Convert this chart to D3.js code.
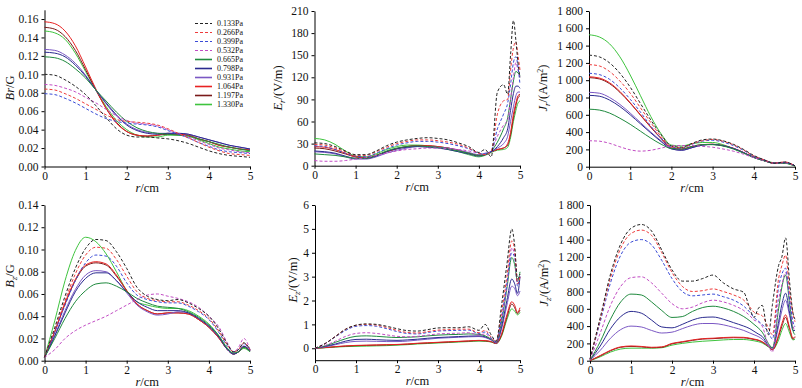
<!DOCTYPE html>
<html><head><meta charset="utf-8">
<script src="https://cdn.jsdelivr.net/npm/d3@7"></script>
<style>
body{margin:0;background:#fff;}
</style></head>
<body><svg id="c" width="802" height="388"></svg>
<script>
// ---------- data ----------
const pressures = ["0.133Pa","0.266Pa","0.399Pa","0.532Pa","0.665Pa","0.798Pa","0.931Pa","1.064Pa","1.197Pa","1.330Pa"];
const xTicks = [0,1,2,3,4,5];

const rBr = [0,0.25,0.5,0.75,1,1.25,1.5,1.75,2,2.25,2.5,2.75,3,3.25,3.5,3.75,4,4.25,4.5,4.75,5];
const brValues = [
 [.100,.099,.094,.087,.078,.066,.053,.041,.034,.032,.032,.031,.030,.028,.025,.021,.017,.014,.012,.011,.010],
 [.084,.083,.079,.074,.068,.062,.056,.051,.049,.048,.047,.045,.041,.036,.031,.026,.021,.017,.014,.013,.012],
 [.079,.078,.074,.069,.063,.057,.052,.049,.047,.046,.045,.043,.039,.035,.031,.026,.022,.018,.016,.015,.014],
 [.089,.088,.085,.081,.075,.069,.062,.055,.050,.047,.046,.044,.040,.036,.032,.028,.024,.020,.018,.016,.015],
 [.119,.118,.114,.106,.096,.083,.071,.059,.049,.042,.038,.036,.035,.034,.033,.030,.027,.024,.021,.019,.017],
 [.124,.123,.119,.110,.098,.083,.069,.056,.045,.039,.036,.035,.036,.036,.035,.032,.029,.026,.023,.021,.019],
 [.127,.126,.121,.112,.099,.083,.068,.055,.046,.040,.037,.036,.036,.036,.035,.032,.029,.026,.023,.021,.019],
 [.157,.155,.147,.131,.108,.084,.063,.047,.038,.034,.033,.034,.036,.035,.034,.030,.027,.023,.021,.019,.018],
 [.151,.149,.141,.126,.105,.083,.063,.048,.038,.034,.033,.034,.035,.035,.034,.030,.027,.023,.021,.019,.018],
 [.147,.145,.138,.123,.103,.083,.065,.050,.040,.034,.032,.032,.034,.034,.033,.029,.025,.021,.019,.017,.016]
];
const brTicks = [0,0.02,0.04,0.06,0.08,0.10,0.12,0.14,0.16];

const rEr = [0,0.25,0.5,0.75,1,1.25,1.5,1.75,2,2.25,2.5,2.75,3,3.25,3.5,3.75,4,4.15,4.3,4.45,4.6,4.7,4.77,4.84,4.9,4.95,5];
const erValues = [
 [31,30,26,20,15,15,20,27,32,35,37,38,37,35,31,26,18,22,12,100,110,97,150,197,170,140,120],
 [29,28,24,19,14,14,19,25,30,33,35,35,34,32,29,24,17,15,20,70,88,90,130,160,168,150,130],
 [27,26,22,17,13,12,17,23,28,31,33,33,32,30,27,23,17,16,20,50,70,85,110,140,148,135,110],
 [7,6,6,7,9,11,14,17,20,22,23,24,24,23,22,20,17,15,20,40,55,62,90,120,140,130,120],
 [16,15,14,12,10,10,14,20,24,26,27,26,25,23,20,17,14,15,20,32,50,65,90,115,128,126,122],
 [20,19,17,13,10,10,13,19,23,25,26,25,24,22,19,16,13,15,19,26,38,50,75,98,108,108,105],
 [19,18,16,12,9,9,12,17,21,24,26,26,25,24,21,18,15,17,19,24,30,40,60,80,95,100,100],
 [26,25,22,17,12,11,14,19,23,26,27,27,26,24,21,17,14,15,19,22,24,30,45,70,85,95,97],
 [24,23,20,16,12,11,14,19,23,26,27,27,26,24,21,17,14,15,19,22,24,28,42,65,82,92,95],
 [37,35,29,20,13,12,16,22,26,28,28,27,25,22,19,15,12,14,18,21,22,25,38,60,75,85,88]
];
const erTicks = [0,30,60,90,120,150,180,210];

const rJr = [0,0.25,0.5,0.75,1,1.25,1.5,1.75,2,2.25,2.5,2.75,3,3.25,3.5,3.75,4,4.25,4.5,4.75,5];
const jrValues = [
 [1290,1270,1200,1080,920,730,540,370,240,225,270,310,320,300,260,200,130,80,40,55,10],
 [1180,1165,1100,990,850,680,510,350,235,220,265,300,315,295,255,195,125,80,40,55,10],
 [1080,1065,1010,910,780,630,470,330,230,215,260,295,305,285,245,190,120,80,40,50,10],
 [300,295,270,230,195,180,190,215,240,245,245,235,225,205,180,145,105,70,40,45,10],
 [665,655,620,560,490,410,330,260,210,205,235,255,255,240,205,158,105,68,38,40,8],
 [825,815,770,695,600,495,390,290,205,190,220,250,258,243,212,163,108,70,40,45,10],
 [860,850,800,720,620,510,400,300,210,190,220,250,258,243,212,163,108,70,40,45,10],
 [1040,1025,970,870,740,600,460,330,220,205,235,255,260,245,215,165,110,70,40,45,10],
 [1030,1015,960,860,735,595,455,325,215,200,230,252,258,243,212,163,108,70,40,45,10],
 [1525,1500,1420,1270,1060,820,580,380,250,240,265,280,280,255,210,160,110,70,45,40,5]
];
const jTicks = [0,200,400,600,800,1000,1200,1400,1600,1800];

const rBz = [0,0.25,0.5,0.75,1,1.25,1.5,1.75,2,2.25,2.5,2.75,3,3.25,3.5,3.75,4,4.25,4.45,4.6,4.72,4.85,5];
const bzValues = [
 [.003,.030,.058,.083,.101,.109,.108,.098,.083,.066,.058,.055,.054,.055,.052,.047,.040,.028,.015,.008,.010,.016,.010],
 [.003,.028,.054,.078,.095,.102,.101,.091,.076,.062,.056,.054,.053,.053,.050,.045,.038,.026,.014,.008,.010,.016,.010],
 [.003,.026,.050,.072,.088,.095,.094,.085,.070,.059,.055,.053,.052,.052,.049,.044,.037,.025,.013,.008,.010,.015,.010],
 [.003,.010,.020,.027,.032,.036,.040,.045,.050,.055,.059,.060,.058,.056,.053,.048,.040,.030,.016,.008,.012,.020,.010],
 [.003,.020,.038,.053,.063,.069,.070,.067,.062,.056,.052,.049,.048,.047,.044,.039,.032,.022,.011,.007,.008,.012,.008],
 [.003,.022,.043,.062,.074,.079,.079,.072,.062,.053,.048,.045,.045,.045,.043,.038,.031,.021,.010,.006,.008,.013,.009],
 [.003,.023,.045,.064,.077,.081,.080,.072,.061,.050,.044,.041,.042,.044,.043,.038,.031,.021,.010,.006,.008,.013,.009],
 [.003,.026,.052,.073,.086,.089,.087,.077,.063,.051,.045,.042,.043,.043,.042,.037,.030,.020,.010,.006,.008,.013,.009],
 [.003,.026,.051,.072,.085,.088,.086,.076,.063,.051,.045,.042,.043,.043,.042,.037,.030,.020,.010,.006,.008,.012,.009],
 [.003,.036,.072,.099,.111,.107,.096,.080,.063,.053,.050,.048,.047,.047,.045,.040,.033,.022,.011,.006,.008,.011,.008]
];
const bzTicks = [0,0.02,0.04,0.06,0.08,0.10,0.12,0.14];

const rEz = [0,0.25,0.5,0.75,1,1.25,1.5,1.75,2,2.25,2.5,2.75,3,3.25,3.5,3.75,4,4.15,4.3,4.42,4.55,4.68,4.8,4.87,4.94,5];
const ezValues = [
 [0,0.2,0.5,0.8,0.97,1.02,1.0,0.92,0.82,0.74,0.72,0.78,0.85,0.86,0.86,0.9,0.75,1.0,0.55,0.3,1.8,3.5,5.0,4.3,2.9,3.1],
 [0,0.2,0.5,0.8,0.96,1.0,0.97,0.87,0.75,0.66,0.64,0.7,0.76,0.78,0.8,0.8,0.65,0.75,0.45,0.28,1.5,3.0,4.5,4.1,2.7,3.0],
 [0,0.2,0.48,0.75,0.92,0.95,0.92,0.82,0.7,0.62,0.6,0.66,0.72,0.74,0.75,0.76,0.62,0.68,0.42,0.28,1.3,2.7,4.0,3.8,2.6,3.1],
 [0,0.12,0.3,0.5,0.62,0.65,0.62,0.56,0.5,0.48,0.5,0.55,0.6,0.62,0.63,0.65,0.55,0.6,0.4,0.25,1.2,2.6,4.2,3.9,2.7,3.0],
 [0,0.1,0.25,0.4,0.5,0.52,0.5,0.47,0.45,0.46,0.48,0.52,0.55,0.57,0.58,0.6,0.58,0.52,0.38,0.25,1.1,2.5,3.8,3.5,2.8,3.2],
 [0,0.08,0.18,0.3,0.37,0.38,0.36,0.34,0.33,0.35,0.38,0.42,0.45,0.47,0.49,0.51,0.52,0.48,0.36,0.23,0.9,2.0,2.9,2.7,2.3,3.0],
 [0,0.06,0.15,0.24,0.29,0.3,0.29,0.28,0.28,0.3,0.34,0.38,0.42,0.44,0.46,0.48,0.49,0.45,0.34,0.22,0.8,1.8,2.6,2.5,2.2,2.4],
 [0,0.03,0.07,0.1,0.12,0.13,0.14,0.15,0.16,0.18,0.21,0.23,0.25,0.27,0.29,0.31,0.33,0.32,0.28,0.2,0.6,1.4,1.95,1.8,1.5,1.7],
 [0,0.03,0.06,0.09,0.11,0.12,0.13,0.14,0.15,0.17,0.2,0.22,0.24,0.26,0.28,0.3,0.32,0.31,0.27,0.2,0.55,1.3,1.85,1.7,1.45,1.6],
 [0,0.02,0.05,0.07,0.08,0.09,0.1,0.11,0.13,0.15,0.18,0.2,0.22,0.24,0.26,0.28,0.3,0.29,0.26,0.2,0.5,1.2,1.65,1.55,1.4,1.5]
];
const ezTicks = [0,1,2,3,4,5,6];

const rJz = [0,0.25,0.5,0.75,1,1.25,1.5,1.75,2,2.25,2.5,2.75,3,3.25,3.5,3.75,3.9,4.0,4.1,4.2,4.35,4.45,4.6,4.68,4.77,4.87,4.95,5];
const jzValues = [
 [20,500,1000,1350,1530,1575,1500,1280,1050,920,920,950,990,900,830,790,600,500,600,640,300,650,1100,1200,1420,900,550,480],
 [15,480,960,1300,1470,1510,1450,1250,1020,860,800,810,830,800,760,700,620,560,540,520,380,300,950,1100,1220,800,550,450],
 [15,450,900,1220,1370,1400,1340,1160,950,800,750,760,770,740,700,630,560,500,460,420,330,250,850,1000,1070,700,450,400],
 [10,320,640,860,960,970,900,780,660,600,620,670,700,680,640,580,520,470,450,400,180,100,700,880,1020,700,400,350],
 [5,220,480,680,770,760,680,580,500,510,570,615,630,610,570,510,460,420,380,330,200,150,600,850,990,650,350,300],
 [5,170,370,510,570,550,470,390,380,420,470,500,505,480,440,400,370,340,310,280,180,150,450,650,780,550,350,350],
 [5,120,260,360,400,390,350,320,330,370,410,430,430,415,385,350,320,300,280,250,170,140,400,580,700,520,380,400],
 [0,60,120,160,170,165,155,160,200,220,240,255,260,268,272,270,260,250,240,220,170,130,300,430,530,380,260,280],
 [0,55,115,155,165,160,150,155,195,215,235,250,255,262,266,264,255,245,235,215,165,125,280,400,500,360,250,270],
 [0,45,100,135,145,145,145,150,180,200,215,225,232,240,245,245,238,230,220,205,160,130,240,350,430,320,240,250]
];

// ---------- styles ----------
const colors = ["#222222","#ee3b3b","#3a4bd6","#c24cc4","#1f8a3e","#2b2b8f","#7b58c4","#e82222","#7a1a1a","#3ec43e"];
const dashed = [true,true,true,true,false,false,false,false,false,false];
const FONT = "'Liberation Serif', 'Times New Roman', Times, serif";

const svg = d3.select("#c");

function panel(cfg){
  const x = d3.scaleLinear().domain([0,5]).range([cfg.x0,cfg.x1]);
  const y = d3.scaleLinear().domain(cfg.ydom).range([cfg.yb,cfg.yt]);
  const g = svg.append("g");
  const ya = d3.axisLeft(y).tickValues(cfg.yticks).tickSize(3).tickPadding(3).tickFormat(cfg.fmt).tickSizeOuter(0);
  const gy = g.append("g").attr("transform",`translate(${cfg.x0},0)`).call(ya);
  gy.selectAll("text").style("font-size","11.5px");
  const xa = d3.axisBottom(x).tickValues(xTicks).tickSize(3).tickPadding(2).tickFormat(d3.format("d")).tickSizeOuter(0);
  const gx = g.append("g").attr("transform",`translate(0,${cfg.yb})`).call(xa);
  gx.selectAll("text").style("font-size","11.5px");
  const line = d3.line().x((d,i)=>x(cfg.r[i])).y(d=>y(d)).curve(d3.curveMonotoneX);
  [9,8,7,6,5,4,3,2,1,0].forEach(k=>{
    g.append("path").attr("d",line(cfg.vals[k])).attr("fill","none")
     .attr("stroke",colors[k]).attr("stroke-width",1)
     .attr("stroke-dasharray",dashed[k]?"3,2":null);
  });
  const xl = g.append("text").attr("x",(cfg.x0+cfg.x1)/2).attr("y",cfg.yb+25)
    .attr("text-anchor","middle").style("font-size","12.5px");
  xl.append("tspan").style("font-style","italic").text("r");
  xl.append("tspan").text("/cm");
  const yl = g.append("text").attr("transform",`translate(${cfg.lx},${cfg.ly}) rotate(-90)`)
    .attr("text-anchor","middle").style("font-size","12.5px");
  cfg.label(yl);
}

function lab(sym, sub, unit, sup){
  return function(t){
    t.append("tspan").style("font-style","italic").text(sym);
    if(sub){ t.append("tspan").style("font-style","italic").style("font-size","9px").attr("dy",3).text(sub);
             t.append("tspan").attr("dy",-3).text(unit);}
    else t.append("tspan").text(unit);
    if(sup){ t.append("tspan").style("font-size","8px").attr("dy",-4).text(sup);
             t.append("tspan").attr("dy",4).text(")"); }
  };
}
const spaceFmt = d=> d>=1000 ? d3.format(",")(d).replace(",", " ") : String(d);

panel({x0:44.5,x1:250,yt:9.8,yb:166.5,ydom:[0,0.17],yticks:brTicks,fmt:d3.format(".2f"),
  r:rBr,vals:brValues,lx:14,ly:88,label:t=>{t.append("tspan").style("font-style","italic").text("Br");t.append("tspan").text("/G");}});
panel({x0:314.5,x1:520,yt:11,yb:165.7,ydom:[0,210],yticks:erTicks,fmt:d3.format("d"),
  r:rEr,vals:erValues,lx:282,ly:88,label:lab("E","r","/(V/m)")});
panel({x0:589,x1:795,yt:11,yb:166.7,ydom:[0,1800],yticks:jTicks,fmt:spaceFmt,
  r:rJr,vals:jrValues,lx:547,ly:88,label:lab("J","r","/(A/m","2")});
panel({x0:44.5,x1:250,yt:205,yb:360.7,ydom:[0,0.14],yticks:bzTicks,fmt:d3.format(".2f"),
  r:rBz,vals:bzValues,lx:14,ly:276,label:lab("B","z","/G")});
panel({x0:315,x1:520,yt:205,yb:360.2,ydom:[-0.5,6],yticks:ezTicks,fmt:d3.format("d"),
  r:rEz,vals:ezValues,lx:297,ly:280,label:lab("E","z","/(V/m)")});
panel({x0:590,x1:795,yt:205,yb:360.7,ydom:[0,1800],yticks:jTicks,fmt:spaceFmt,
  r:rJz,vals:jzValues,lx:548,ly:283,label:lab("J","z","/(A/m","2")});

// legend
const lg = svg.append("g");
pressures.forEach((p,i)=>{
  const yy = 23.5 + i*9;
  lg.append("line").attr("x1",195).attr("x2",212).attr("y1",yy).attr("y2",yy)
    .attr("stroke",colors[i]).attr("stroke-width",dashed[i]?1:1.6).attr("stroke-dasharray",dashed[i]?"3,2":null);
  lg.append("text").attr("x",217).attr("y",yy+2.8).style("font-size","8px").text(p);
});

svg.selectAll("g").attr("font-family",null);
svg.selectAll("text").style("font-family",FONT).style("fill","#111");
</script></body></html>
